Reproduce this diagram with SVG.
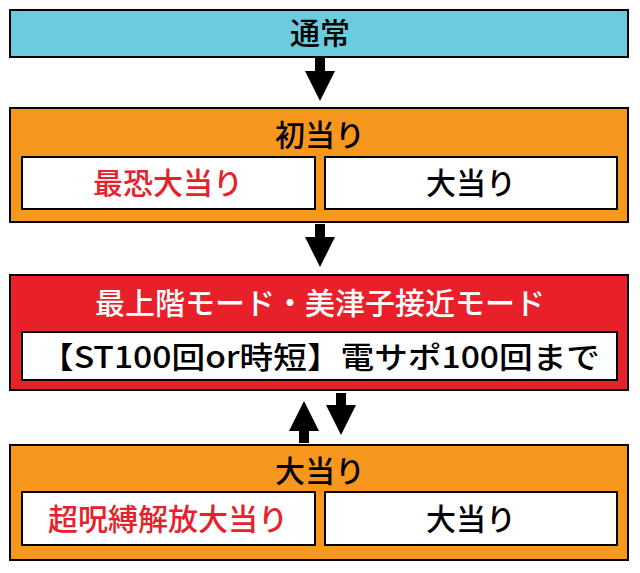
<svg xmlns="http://www.w3.org/2000/svg" width="640" height="573" viewBox="0 0 640 573">
<style>
.b{stroke:#000;stroke-width:2}
.w{fill:#fff;stroke:#000;stroke-width:2}
text{font-family:"Noto Sans CJK JP","Noto Sans",sans-serif;font-size:30px;font-weight:500;text-anchor:middle}
.t{fill:#000}
.r{fill:#e8202a}
.wt{fill:#fff}
</style>
<defs>
<marker id="ah" markerWidth="3" markerHeight="3" refX="1.5" refY="1.5" orient="auto"><path d="M0,0 L3,1.5 L0,3 Z" fill="#000"/></marker>
</defs>
<g id="n1"><rect class="b" x="10" y="10" width="618" height="47" fill="#6ccbdc"/><text class="t" x="320" y="44">通常</text></g>
<g id="n2"><rect class="b" x="10" y="108" width="618" height="114" fill="#f7971e"/><text class="t" x="320" y="146">初当り</text>
<rect class="w" x="22" y="157" width="293" height="52"/><text class="r" x="168" y="194">最恐大当り</text>
<rect class="w" x="325" y="157" width="292" height="52"/><text class="t" x="471" y="194">大当り</text></g>
<g id="n3"><rect class="b" x="10" y="275" width="618" height="115" fill="#e8202a"/><text class="wt" x="320" y="314">最上階モード・美津子接近モード</text>
<rect class="w" x="22" y="332" width="595" height="48"/><text class="t" x="320" y="368" font-size="32" textLength="560" lengthAdjust="spacingAndGlyphs">【ST100回or時短】電サポ100回まで</text></g>
<g id="n4"><rect class="b" x="10" y="445" width="618" height="115" fill="#f7971e"/><text class="t" x="320" y="482">大当り</text>
<rect class="w" x="22" y="492" width="293" height="53"/><text class="r" x="168" y="530">超呪縛解放大当り</text>
<rect class="w" x="325" y="492" width="292" height="53"/><text class="t" x="471" y="530">大当り</text></g>
<g id="connectors" stroke="#000" stroke-width="10" fill="none">
<line x1="320" y1="58" x2="320" y2="86" marker-end="url(#ah)"/>
<line x1="320" y1="224" x2="320" y2="252" marker-end="url(#ah)"/>
<line x1="304" y1="443" x2="304" y2="416" marker-end="url(#ah)"/>
<line x1="341" y1="393" x2="341" y2="420" marker-end="url(#ah)"/>
</g>
</svg>
